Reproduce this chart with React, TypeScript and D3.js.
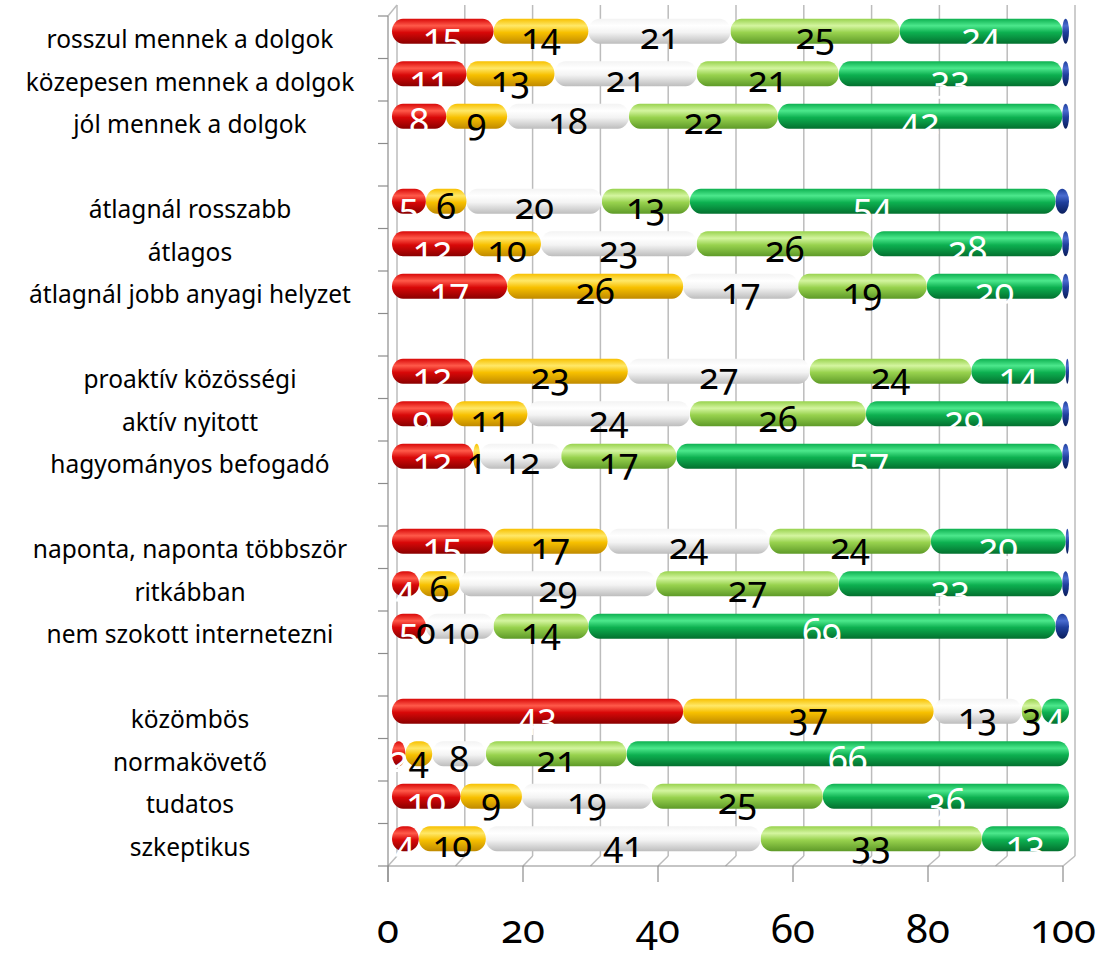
import * as d3 from 'd3';
import React, { useRef, useEffect } from 'react';

const width = 1114;
const height = 954;

// rows top to bottom, "" marks the empty slot between groups
const categories = [
  "rosszul mennek a dolgok", "közepesen mennek a dolgok", "jól mennek a dolgok", "",
  "átlagnál rosszabb", "átlagos", "átlagnál jobb anyagi helyzet", "",
  "proaktív közösségi", "aktív nyitott", "hagyományos befogadó", "",
  "naponta, naponta többször", "ritkábban", "nem szokott internetezni", "",
  "közömbös", "normakövető", "tudatos", "szkeptikus"
];

const red =        [15, 11, 8, 0, 5, 12, 17, 0, 12, 9, 12, 0, 15, 4, 5, 0, 43, 2, 10, 4];
const yellow =     [14, 13, 9, 0, 6, 10, 26, 0, 23, 11, 1, 0, 17, 6, 0, 0, 37, 4, 9, 10];
const white =      [21, 21, 18, 0, 20, 23, 17, 0, 27, 24, 12, 0, 24, 29, 10, 0, 13, 8, 19, 41];
const lightGreen = [25, 21, 22, 0, 13, 26, 19, 0, 24, 26, 17, 0, 24, 27, 14, 0, 3, 21, 25, 33];
const darkGreen =  [24, 33, 42, 0, 54, 28, 20, 0, 14, 29, 57, 0, 20, 33, 69, 0, 4, 66, 36, 13];
const blue =       [1, 1, 1, 0, 2, 1, 1, 0, 0.5, 1, 1, 0, 0.5, 1, 2, 0, 0, 0, 0, 0];

const series = [
  { key: "red", values: red, c0: "#ff5a4a", c1: "#d80808", c2: "#8a0000", label: "#ffffff" },
  { key: "yellow", values: yellow, c0: "#ffe868", c1: "#f7c000", c2: "#c08a00", label: "#000000" },
  { key: "white", values: white, c0: "#ffffff", c1: "#f3f3f3", c2: "#bdbdbd", label: "#000000" },
  { key: "lgreen", values: lightGreen, c0: "#d4f5a0", c1: "#98d24e", c2: "#5e9a28", label: "#000000" },
  { key: "dgreen", values: darkGreen, c0: "#4ce88c", c1: "#0db050", c2: "#03702f", label: "#ffffff" },
  { key: "blue", values: blue, c0: "#4a6cd0", c1: "#1f3f9c", c2: "#0a1e5c", label: null },
];

const xTicks = [0, 20, 40, 60, 80, 100];
const gridTicks = d3.range(0, 101, 10);

function App() {
  const ref = useRef(null);

  useEffect(() => {
    const svg = d3.select(ref.current);
    svg.selectAll("*").remove();

    const wallTop = 5, floorBack = 856, floorFront = 866;
    const xBack = d3.scaleLinear().domain([0, 100]).range([397, 1075]);
    const xFront = d3.scaleLinear().domain([0, 100]).range([388, 1063]);
    const xBar = d3.scaleLinear().domain([0, 1]).range([392, 1069]);
    const y = d3.scaleBand().domain(categories.map((c, i) => "r" + i)).range([16, floorFront]);
    const barH = 25;

    // 100% stacked rows
    const table = categories.map((c, i) => {
      const row = { id: "r" + i };
      series.forEach(s => { row[s.key] = s.values[i]; });
      return row;
    });
    const stacked = d3.stack()
      .keys(series.map(s => s.key))
      .offset(d3.stackOffsetExpand)(table);

    const defs = svg.append("defs");
    series.forEach(s => {
      const g = defs.append("linearGradient")
        .attr("id", "grad-" + s.key)
        .attr("x1", 0).attr("y1", 0).attr("x2", 0).attr("y2", 1);
      g.append("stop").attr("offset", "0%").attr("stop-color", s.c1);
      g.append("stop").attr("offset", "28%").attr("stop-color", s.c0);
      g.append("stop").attr("offset", "55%").attr("stop-color", s.c1);
      g.append("stop").attr("offset", "100%").attr("stop-color", s.c2);
    });

    const grid = svg.append("g").attr("stroke", "#bcbcbc").attr("stroke-width", 1.5).attr("fill", "none");
    gridTicks.forEach(v => {
      grid.append("line").attr("x1", xBack(v)).attr("x2", xBack(v)).attr("y1", wallTop).attr("y2", floorBack);
      grid.append("line").attr("x1", xBack(v)).attr("x2", xFront(v)).attr("y1", floorBack).attr("y2", floorFront);
    });
    // top corner of side wall
    grid.append("line").attr("x1", xFront(0)).attr("x2", xBack(0)).attr("y1", 16).attr("y2", wallTop);

    // left axis with ticks at band edges
    const axis = svg.append("g").attr("stroke", "#8c8c8c").attr("stroke-width", 1.2);
    axis.append("line").attr("x1", xFront(0)).attr("x2", xFront(0)).attr("y1", 16).attr("y2", 882);
    d3.range(0, categories.length + 1).forEach(i => {
      const yy = 16 + i * y.step();
      axis.append("line").attr("x1", xFront(0) - 10).attr("x2", xFront(0)).attr("y1", yy).attr("y2", yy);
    });
    axis.append("line").attr("x1", xFront(0)).attr("x2", xFront(100)).attr("y1", floorFront).attr("y2", floorFront);
    xTicks.forEach(v => {
      axis.append("line").attr("x1", xFront(v)).attr("x2", xFront(v)).attr("y1", floorFront).attr("y2", 882);
    });

    // bars, drawn right to left so each rounded end sits over the next one
    const bars = svg.append("g");
    const labels = [];
    categories.forEach((cat, i) => {
      if (cat === "") return;
      const cy = y("r" + i) + y.bandwidth() / 2 - 6;
      stacked.slice().reverse().forEach((layer, k) => {
        const s = series[series.length - 1 - k];
        const d = layer[i];
        const w = xBar(d[1]) - xBar(d[0]);
        if (w <= 0) return;
        bars.append("rect")
          .attr("x", xBar(d[0]))
          .attr("y", cy - barH / 2)
          .attr("width", w)
          .attr("height", barH)
          .attr("rx", Math.min(11, w / 2))
          .attr("ry", barH / 2)
          .attr("fill", "url(#grad-" + s.key + ")");
      });
      stacked.forEach((layer, k) => {
        const s = series[k];
        const d = layer[i];
        if (s.label) labels.push({ x: xBar((d[0] + d[1]) / 2), y: cy + 18, text: s.values[i], color: s.label });
      });
    });

    svg.append("g")
      .selectAll("text")
      .data(labels)
      .enter()
      .append("text")
      .attr("x", d => d.x)
      .attr("y", d => d.y)
      .attr("text-anchor", "middle")
      .attr("fill", d => d.color)
      .style("font-family", "'Noto Sans', sans-serif")
      .style("font-size", "36px")
      .style("font-variant-numeric", "oldstyle-nums")
      .text(d => d.text);

    // category labels
    svg.append("g")
      .selectAll("text")
      .data(categories.map((c, i) => ({ c, i })).filter(d => d.c !== ""))
      .enter()
      .append("text")
      .attr("x", 190)
      .attr("y", d => y("r" + d.i) + y.bandwidth() / 2 + 11)
      .attr("text-anchor", "middle")
      .attr("fill", "#000")
      .style("font-family", "'Noto Sans', sans-serif")
      .style("font-size", "24.5px")
      .text(d => d.c);

    // x tick labels
    svg.append("g")
      .selectAll("text")
      .data(xTicks)
      .enter()
      .append("text")
      .attr("x", d => xFront(d))
      .attr("y", 943)
      .attr("text-anchor", "middle")
      .attr("fill", "#000")
      .style("font-family", "'Noto Sans', sans-serif")
      .style("font-size", "40px")
      .style("font-variant-numeric", "oldstyle-nums")
      .text(d => d);
  }, []);

  return (
    <div style={{ position: "absolute", left: 0, top: 0 }}>
      <svg ref={ref} width={width} height={height} style={{ display: "block" }}></svg>
    </div>
  );
}

export default App;
